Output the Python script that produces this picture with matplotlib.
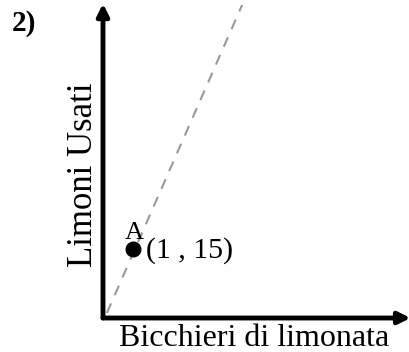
import matplotlib.pyplot as plt

plt.rcParams['font.family'] = ['Liberation Serif', 'DejaVu Serif']

# point A and the dashed trend line
pointX = [1]
pointY = [15]
pointLabel = 'A'
pointText = '(1 , 15)'
lineX = [0.13, 4.67]
lineY = [1.1, 68.5]

fig = plt.figure(figsize=(4.09, 3.52), dpi=100)
ax = fig.add_axes([103 / 409, 34 / 352, 306 / 409, 313 / 352])
ax.set_xlim(0, 10.2)
ax.set_ylim(0, 68)
ax.axis('off')

# axes as arrows
ax.annotate('', xy=(10.25, 0), xytext=(0, 0),
            arrowprops=dict(arrowstyle='-|>,head_length=0.7,head_width=0.35', lw=3.5, color='black',
                            shrinkA=0, shrinkB=0), annotation_clip=False)
ax.annotate('', xy=(0, 68.3), xytext=(0, 0),
            arrowprops=dict(arrowstyle='-|>,head_length=0.7,head_width=0.35', lw=3.5, color='black',
                            shrinkA=0, shrinkB=0), annotation_clip=False)

ax.plot(lineX, lineY, '--', color='#999999', lw=1.5, dashes=(5, 4.3))
ax.plot(pointX, pointY, 'o', color='black', markersize=10.5)
ax.text(pointX[0] - 0.27, pointY[0] + 1.0, pointLabel, fontsize=19, ha='left', va='bottom')
ax.text(pointX[0] + 0.45, pointY[0] - 0.3, pointText, fontsize=21.5, ha='left', va='center')

fig.text(12 / 409, 1 - 31 / 352, '2)', fontsize=21, fontweight='bold')
fig.text(254 / 409, 1 - 346 / 352, 'Bicchieri di limonata', fontsize=23, ha='center', va='baseline')
fig.text(83 / 409, 1 - 175 / 352, 'Limoni Usati', fontsize=25, ha='center', va='center', rotation=90)

fig.savefig('out.png', dpi=100)
